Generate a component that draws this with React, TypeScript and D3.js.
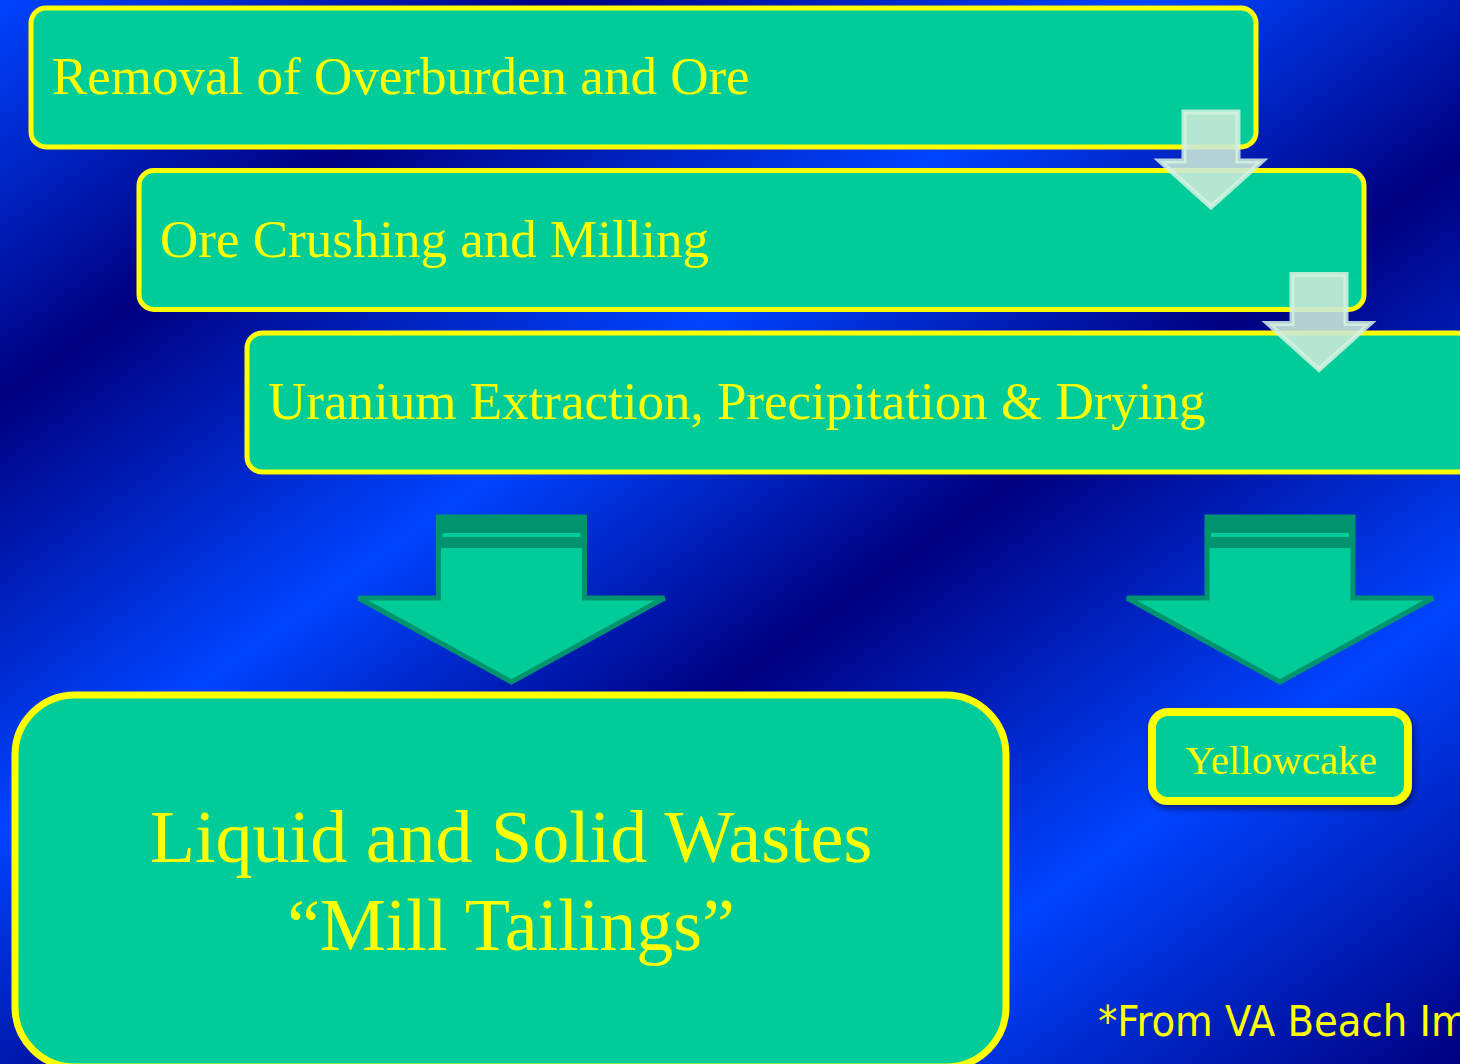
import React from 'react';
import * as d3 from 'd3';

// Process steps, top to bottom
const steps = [
  'Removal of Overburden and Ore',
  'Ore Crushing and Milling',
  'Uranium Extraction, Precipitation & Drying',
];

// Outputs of the last step
const wasteLines = ['Liquid and Solid Wastes', '\u201CMill Tailings\u201D'];
const productLabel = 'Yellowcake';
const sourceNote = '*From VA Beach Im';

// background band positions along the diagonal (0..1) and whether they are bright
const bandStops = [0, 0.189, 0.392, 0.572, 0.78, 1];
const bandBright = [true, false, true, false, true, false];

const W = 1460;
const H = 1064;
const GREEN = '#00cc99';
const DARK_GREEN = '#00946e';
const YELLOW = '#ffff00';
const SERIF = '"Liberation Serif", "Times New Roman", serif';

function downArrow(cx: number, top: number, shaftHalf: number, headY: number, headHalf: number, tipY: number) {
  const p = d3.path();
  p.moveTo(cx - shaftHalf, top);
  p.lineTo(cx + shaftHalf, top);
  p.lineTo(cx + shaftHalf, headY);
  p.lineTo(cx + headHalf, headY);
  p.lineTo(cx, tipY);
  p.lineTo(cx - headHalf, headY);
  p.lineTo(cx - shaftHalf, headY);
  p.closePath();
  return p.toString();
}

export default function App() {
  const xStep = d3.scaleLinear().domain([0, steps.length - 1]).range([31, 247]);
  const yStep = d3.scaleLinear().domain([0, steps.length - 1]).range([8, 333]);
  const boxW = 1225;
  const boxH = 139;

  // big arrows under the last step
  const bigArrows = [511.5, 1280];

  return (
    <svg width={W} height={H} style={{ position: 'absolute', left: 0, top: 0 }}>
      <defs>
        <linearGradient id="bg" gradientUnits="userSpaceOnUse" x1={0} y1={0} x2={1003} y2={1393}>
          {bandStops.map((o, i) => (
            <stop key={i} offset={o} stopColor={bandBright[i] ? '#0044ff' : '#00007f'} />
          ))}
        </linearGradient>
        <filter id="shadow" x="-10%" y="-10%" width="130%" height="140%">
          <feDropShadow dx="2" dy="4" stdDeviation="3" floodColor="#000033" floodOpacity="0.55" />
        </filter>
      </defs>
      <rect width={W} height={H} fill="url(#bg)" />

      {steps.map((s, i) => (
        <g key={s}>
          <rect
            x={xStep(i)} y={yStep(i)} width={boxW} height={boxH} rx={15}
            fill={GREEN} stroke={YELLOW} strokeWidth={5}
          />
          <text x={xStep(i) + 21} y={yStep(i) + 86} fill={YELLOW} fontFamily={SERIF} fontSize={53}>
            {s}
          </text>
        </g>
      ))}

      {/* translucent connectors between steps */}
      {steps.slice(0, -1).map((s, i) => {
        const cx = xStep(i) + boxW - 45;
        const top = yStep(i) + boxH - 35;
        return (
          <path
            key={'c' + s}
            d={downArrow(cx, top, 27, top + 49, 51, top + 95)}
            fill="rgb(202,233,217)" fillOpacity={0.89}
            stroke="rgb(214,242,226)" strokeOpacity={0.85} strokeWidth={5}
          />
        );
      })}

      {bigArrows.map((cx) => (
        <g key={cx}>
          <path
            d={downArrow(cx, 517, 73, 598, 153, 682)}
            fill={GREEN} stroke={DARK_GREEN} strokeWidth={5} strokeLinejoin="miter"
          />
          <rect x={cx - 75} y={517} width={150} height={31} fill={DARK_GREEN} />
          <rect x={cx - 69} y={533} width={138} height={4} fill={GREEN} />
        </g>
      ))}

      {/* wastes box */}
      <rect x={15} y={695} width={991} height={372} rx={60} fill={GREEN} stroke={YELLOW} strokeWidth={7} />
      {wasteLines.map((t, i) => (
        <text
          key={t} x={511} y={862 + i * 88} textAnchor="middle"
          fill={YELLOW} fontFamily={SERIF} fontSize={74}
        >
          {t}
        </text>
      ))}

      {/* yellowcake box */}
      <g filter="url(#shadow)">
        <rect x={1152} y={712} width={256} height={89} rx={16} fill={GREEN} stroke={YELLOW} strokeWidth={8} />
      </g>
      <text x={1281} y={774} textAnchor="middle" fill={YELLOW} fontFamily={SERIF} fontSize={41}>
        {productLabel}
      </text>

      <text
        x={1098} y={1036} fill={YELLOW}
        fontFamily='"DejaVu Sans Condensed", "Liberation Sans", sans-serif' fontSize={43}
      >
        {sourceNote}
      </text>
    </svg>
  );
}
